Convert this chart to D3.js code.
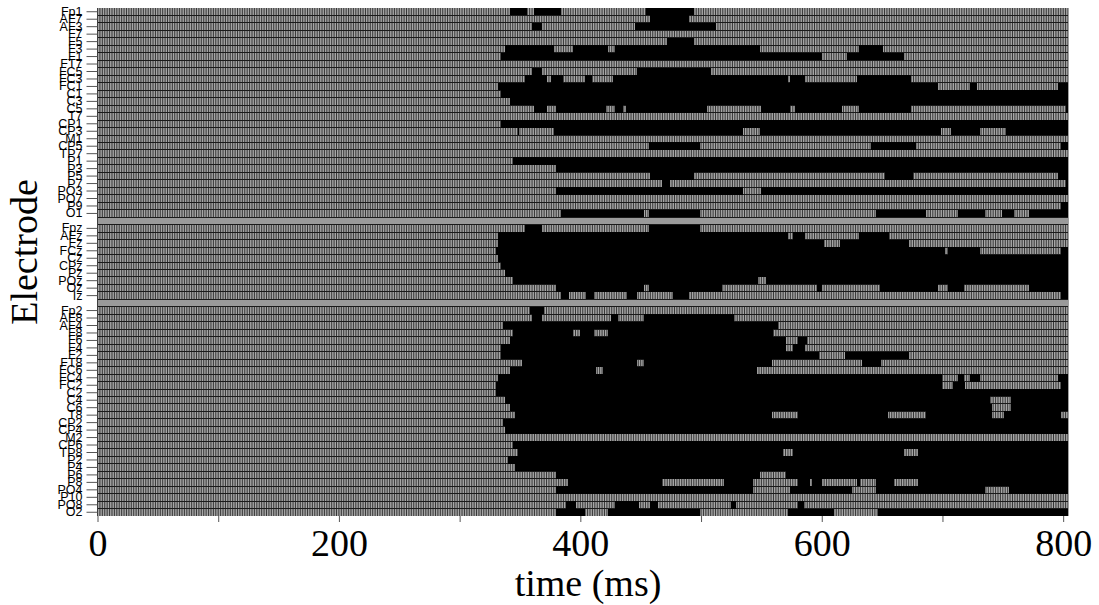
<!DOCTYPE html>
<html>
<head>
<meta charset="utf-8">
<script src="https://cdnjs.cloudflare.com/ajax/libs/d3/7.8.5/d3.min.js"></script>
<style>
    html, body { margin: 0; padding: 0; background: #fff; }
    svg { display: block; }
</style>
</head>
<body>
<div id="chart"></div>
<script>
const leftElectrodes = ["Fp1","AF7","AF3","F7","F5","F3","F1","FT7","FC5","FC3","FC1","C1","C3","C5","T7","CP1","CP3","M1","CP5","TP7","P1","P3","P5","P7","PO3","PO7","P9","O1"];
const midElectrodes = ["Fpz","AFz","Fz","FCz","Cz","CPz","Pz","POz","Oz","Iz"];
const rightElectrodes = ["Fp2","AF8","AF4","F8","F6","F4","F2","FT8","FC6","FC4","FC2","C2","C4","C6","T8","CP2","CP4","M2","CP6","TP8","P2","P4","P6","P8","PO4","P10","PO8","O2"];

// significant periods (black), [start, end] in ms, one list per electrode
const leftRuns = [
    [[342,356],[362,384],[454,494]],
    [[458,490]],
    [[360,368],[445,512]],
    [],
    [[472,494]],
    [[338,378],[394,423],[429,549],[631,651]],
    [[334,600],[621,668]],
    [],
    [[360,368],[447,508]],
    [[354,372],[376,386],[404,410],[427,572],[574,586],[629,674]],
    [[332,696],[723,729],[796,804]],
    [[334,804]],
    [[342,804]],
    [[362,372],[380,421],[429,435],[438,505],[550,574],[578,617],[631,674],[802,804]],
    [],
    [[334,804]],
    [[348,349],[378,535],[549,699],[707,731],[753,804]],
    [],
    [[457,499],[641,678],[798,804]],
    [],
    [[344,804]],
    [[380,804]],
    [[458,494],[652,676],[796,804]],
    [[468,474],[802,804]],
    [[380,535],[550,804]],
    [],
    [[798,804]],
    [[384,453],[457,499],[645,686],[713,735],[749,759],[772,804]]
];
const midRuns = [
    [[354,368],[457,499]],
    [[332,572],[576,586],[631,656]],
    [[332,602],[615,672]],
    [[330,702],[705,731],[798,804]],
    [[332,804]],
    [[334,804]],
    [[338,804]],
    [[344,547],[554,804]],
    [[380,453],[457,517],[596,600],[648,696],[705,718],[772,804]],
    [[384,391],[405,411],[439,447],[477,490],[798,804]]
];
const rightRuns = [
    [[358,370]],
    [[360,368],[425,431],[453,527]],
    [[336,564]],
    [[344,394],[400,411],[423,560]],
    [[342,570],[580,588]],
    [[334,570],[576,586]],
    [[334,598],[619,672]],
    [[352,447],[453,559],[633,649]],
    [[342,413],[419,546]],
    [[332,700],[713,718],[723,731],[796,804]],
    [[330,700],[709,719],[798,804]],
    [[330,804]],
    [[338,739],[757,804]],
    [[342,741],[757,804]],
    [[346,559],[580,655],[686,741],[751,798]],
    [[336,804]],
    [[338,804]],
    [],
    [[344,804]],
    [[348,568],[576,668],[680,804]],
    [[340,804]],
    [[346,804]],
    [[380,549],[570,804]],
    [[390,468],[519,543],[580,590],[592,600],[629,632],[645,660],[680,804]],
    [[380,543],[574,625],[645,735],[755,804]],
    [],
    [[388,396],[429,449],[458,464],[525,529],[580,585]],
    [[380,404],[423,499],[572,610],[647,804]]
];
const xTicks = [0,100,200,300,400,500,600,700,800];
const xLabels = [0,200,400,600,800];
const timeEnd = 804;
const sampleStep = 2;

const width = 1099, height = 605;
const serif = '"Liberation Serif", "Times New Roman", serif';
const sans = '"Liberation Sans", Arial, sans-serif';

const rowNames = leftElectrodes.concat(["gap1"], midElectrodes, ["gap2"], rightElectrodes);
const rowRuns = leftRuns.concat([null], midRuns, [null], rightRuns);
const rows = rowNames.map(function(d, i) { return { name: d, runs: rowRuns[i] }; });
const isGap = function(d) { return d.indexOf("gap") === 0; };

const x = d3.scaleLinear().domain([0, timeEnd]).range([97.5, 1068]);
const y = d3.scaleBand().domain(rowNames).range([8, 516]);

const svg = d3.select("#chart").append("svg")
    .attr("width", width)
    .attr("height", height);

// grey cells
svg.append("rect")
    .attr("x", x(0))
    .attr("y", y.range()[0])
    .attr("width", x(timeEnd) - x(0))
    .attr("height", y.range()[1] - y.range()[0])
    .attr("fill", "#a6a6a6");

// cell edges, one per sample
svg.append("g")
    .attr("class", "edges")
    .selectAll("line")
    .data(d3.range(0, timeEnd + sampleStep, sampleStep))
    .enter().append("line")
    .attr("x1", function(d) { return x(d); })
    .attr("x2", function(d) { return x(d); })
    .attr("y1", y.range()[0])
    .attr("y2", y.range()[1])
    .attr("stroke", "#222")
    .attr("stroke-width", 0.85);

// the two blank rows between the electrode groups
svg.append("g").selectAll("rect")
    .data(rowNames.filter(isGap))
    .enter().append("rect")
    .attr("x", x(0))
    .attr("y", function(d) { return y(d); })
    .attr("width", x(timeEnd) - x(0))
    .attr("height", y.bandwidth())
    .attr("shape-rendering", "crispEdges")
    .attr("fill", "#9a9a9a");

// row edges
svg.append("g")
    .attr("class", "rowEdges")
    .selectAll("line")
    .data(rowNames.slice(1))
    .enter().append("line")
    .attr("x1", x(0))
    .attr("x2", x(timeEnd))
    .attr("y1", function(d) { return y(d); })
    .attr("y2", function(d) { return y(d); })
    .attr("stroke", "#1a1a1a")
    .attr("stroke-width", 1)
    .attr("shape-rendering", "crispEdges");

// black periods
const rowG = svg.append("g").attr("class", "runs")
    .selectAll("g")
    .data(rows.filter(function(d) { return d.runs; }))
    .enter().append("g");

rowG.selectAll("rect")
    .data(function(d) { return d.runs.map(function(r) { return { name: d.name, r: r }; }); })
    .enter().append("rect")
    .attr("x", function(d) { return x(d.r[0]); })
    .attr("y", function(d) { return y(d.name); })
    .attr("width", function(d) { return x(d.r[1]) - x(d.r[0]); })
    .attr("height", y.bandwidth())
    .attr("shape-rendering", "crispEdges")
    .attr("fill", "#000");

// axes
const yAxis = d3.axisLeft(y)
    .tickValues(rowNames.filter(function(d) { return !isGap(d); }))
    .tickSize(11)
    .tickPadding(4);

const yG = svg.append("g")
    .attr("transform", "translate(" + x(0) + ",0)")
    .call(yAxis);
yG.select(".domain").remove();
yG.selectAll(".tick line").attr("stroke", "#555");
yG.selectAll("text")
    .style("font-family", sans)
    .style("font-size", "12.5px")
    .attr("fill", "#000");

const xAxis = d3.axisBottom(x)
    .tickValues(xTicks)
    .tickSize(6)
    .tickPadding(7)
    .tickFormat(function(d) { return xLabels.indexOf(d) >= 0 ? d : ""; });

const xG = svg.append("g")
    .attr("transform", "translate(0,516)")
    .call(xAxis);
xG.select(".domain").remove();
xG.selectAll(".tick line").attr("stroke", "#555");
xG.selectAll("text")
    .style("font-family", serif)
    .style("font-size", "38px")
    .attr("fill", "#000");

svg.append("text")
    .attr("x", 588)
    .attr("y", 596)
    .attr("text-anchor", "middle")
    .style("font-family", serif)
    .style("font-size", "38px")
    .text("time (ms)");

svg.append("text")
    .attr("transform", "translate(37,252) rotate(-90)")
    .attr("text-anchor", "middle")
    .style("font-family", serif)
    .style("font-size", "38px")
    .text("Electrode");
</script>
</body>
</html>
